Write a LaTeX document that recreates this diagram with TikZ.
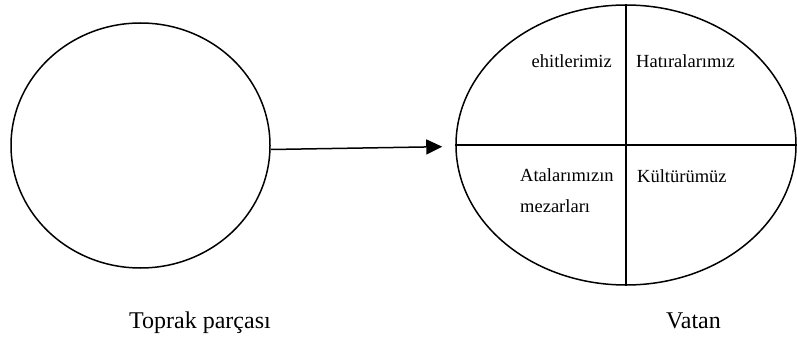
\documentclass[tikz,border=0pt]{standalone}
\usepackage{fontspec}
\setmainfont{Liberation Serif}
\usetikzlibrary{shapes.geometric,arrows.meta}

\begin{document}
\begin{tikzpicture}[x=1pt,y=-1pt,
  blob/.style={draw,ellipse,line width=1.5pt,inner sep=0pt},
  part/.style={inner sep=0pt,font=\fontsize{18.5}{31}\selectfont},
  caption/.style={inner sep=0pt,font=\fontsize{24}{28}\selectfont}]
  \useasboundingbox (0,0) rectangle (797,342);

  \node[blob,minimum width=259,minimum height=245] (land) at (140.5,145.5) {};
  \node[blob,minimum width=340,minimum height=280] (vatan) at (626,145) {};

  \draw[line width=1.5pt] (vatan.north) -- (vatan.south);
  \draw[line width=1.5pt] (vatan.west) -- (vatan.east);
  \draw[line width=1.5pt,-{Triangle[length=16pt,width=15pt]}] ([yshift=-4pt]land.east) -- ([xshift=-13pt,yshift=-1.7pt]vatan.west);

  \node[part,anchor=base east] (sehit) at (612,68) {ehitlerimiz};
  \node[part,anchor=base west] (hatira) at (636,68) {Hatıralarımız};
  \node[part,anchor=base west,align=left] (ata) at (520,212) {Atalarımızın\\mezarları};
  \node[part,anchor=base west] (kultur) at (637,182) {Kültürümüz};

  \node[caption,anchor=base] (toprak) at (200,328) {Toprak parçası};
  \node[caption,anchor=base] (vatanlbl) at (693.5,328) {Vatan};
\end{tikzpicture}
\end{document}
